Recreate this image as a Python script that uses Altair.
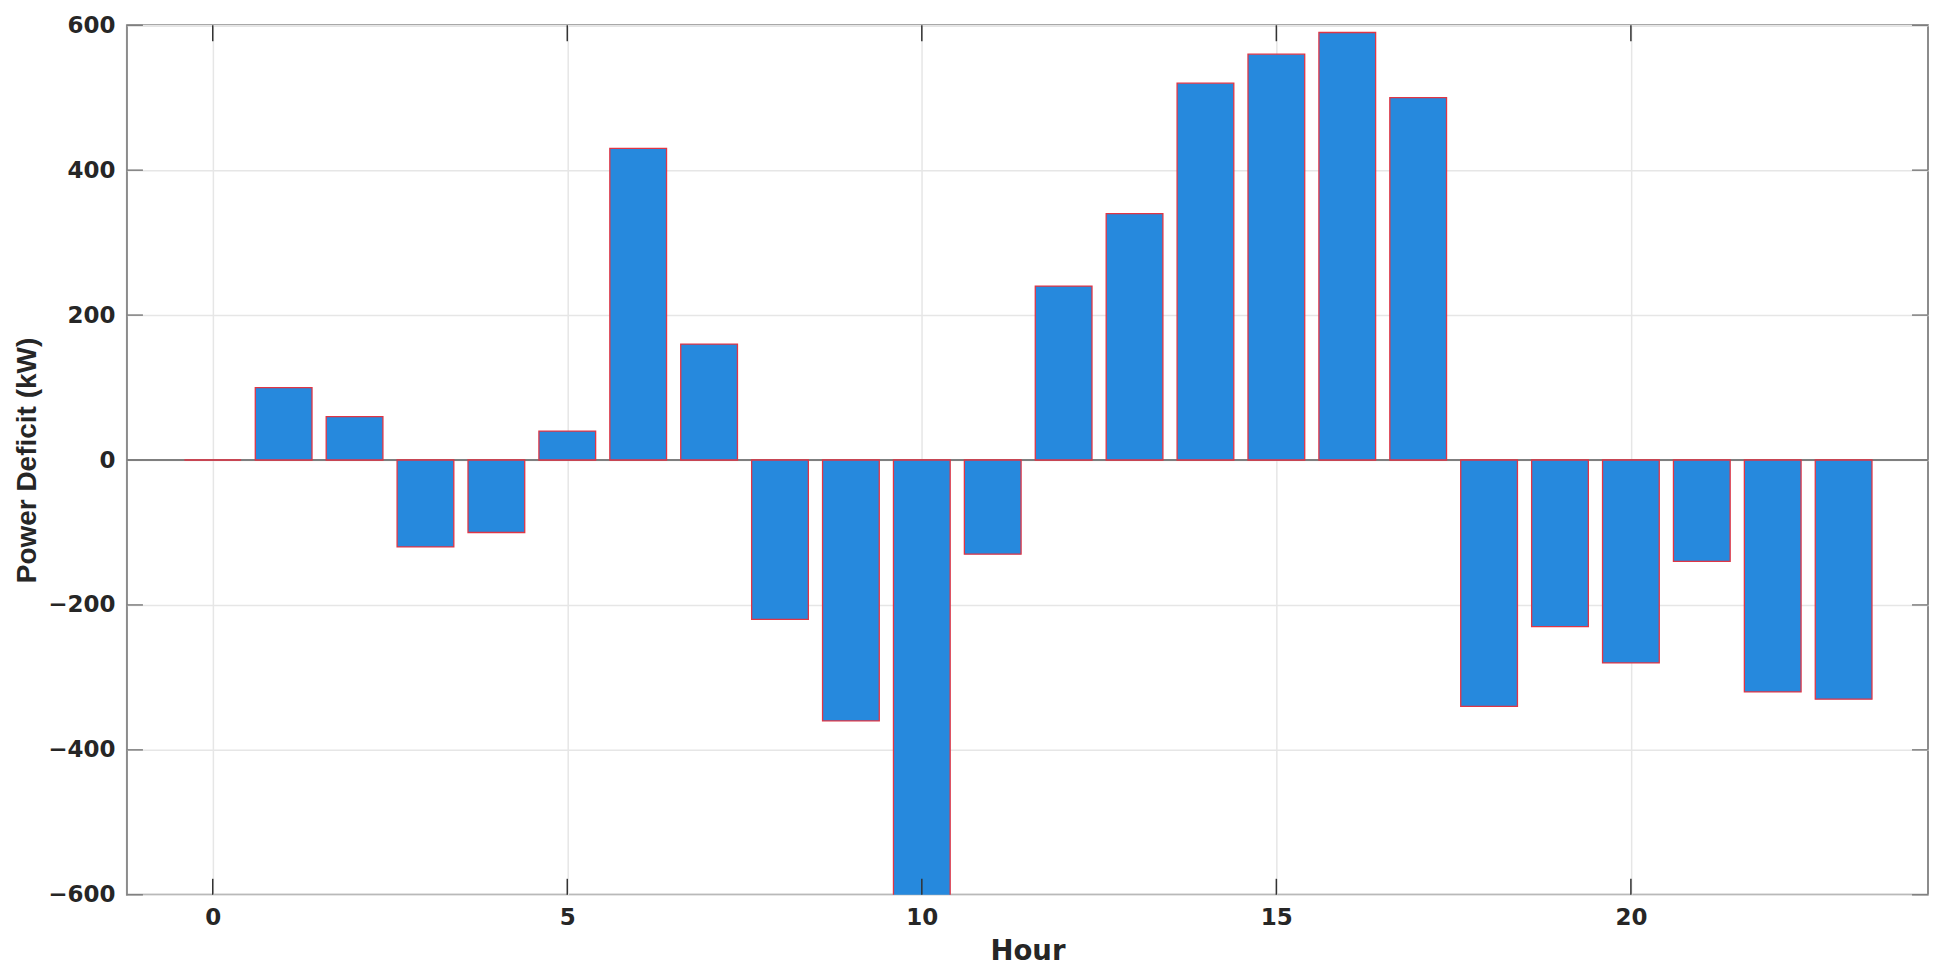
import altair as alt
import pandas as pd

hours = list(range(24))
deficit = [0, 100, 60, -120, -100, 40, 430, 160, -220, -360, -650, -130,
           240, 340, 520, 560, 590, 500, -340, -230, -280, -140, -320, -330]
x_ticks = [0, 5, 10, 15, 20]
y_ticks = [-600, -400, -200, 0, 200, 400, 600]

W, H = 1802, 870
TICK = 16

df = pd.DataFrame({"hour": hours, "deficit": deficit})
xt = pd.DataFrame({"v": x_ticks})
yt = pd.DataFrame({"v": y_ticks})
zero = pd.DataFrame({"v": [0]})

xs = alt.Scale(domain=[-1.21, 24.19], nice=False, zero=False)
ys = alt.Scale(domain=[-600, 600], nice=False)

HFONT = "DejaVu Sans"
txt = "#262626"

x_axis = alt.Axis(values=x_ticks, grid=True, gridColor="#e6e6e6", gridWidth=1.5,
                  domain=False, ticks=False, format="d",
                  labelFont=HFONT, labelFontWeight="bold", labelFontSize=23,
                  labelColor=txt, labelPadding=12,
                  title="Hour", titleFont=HFONT, titleFontWeight="bold",
                  titleFontSize=27.5, titleColor=txt, titlePadding=8)
y_axis = alt.Axis(values=y_ticks, grid=True, gridColor="#e6e6e6", gridWidth=1.5,
                  domain=False, ticks=False, format="d",
                  labelFont=HFONT, labelFontWeight="bold", labelFontSize=23,
                  labelColor=txt, labelPadding=12,
                  title="Power Deficit (kW)", titleFont="Liberation Sans",
                  titleFontWeight="bold", titleFontSize=28, titleColor=txt,
                  titlePadding=6)

zero_line = alt.Chart(zero).mark_rule(color="#7f7f7f", strokeWidth=2).encode(
    y=alt.Y("v:Q", scale=ys, axis=y_axis), x=alt.value(0), x2=alt.value(W))

bars = alt.Chart(df).transform_calculate(
    x0="datum.hour - 0.4", x1="datum.hour + 0.4", base="0"
).mark_rect(fill="#2689DD", stroke="#E03545", strokeWidth=1.3, clip=True).encode(
    x=alt.X("x0:Q", scale=xs, axis=x_axis),
    x2="x1:Q",
    y=alt.Y("deficit:Q", scale=ys, axis=y_axis),
    y2="base:Q",
)

tick_style = dict(color="#333333", strokeWidth=1.5)
bottom_ticks = alt.Chart(xt).mark_rule(**tick_style).encode(
    x=alt.X("v:Q", scale=xs, axis=x_axis), y=alt.value(H - TICK), y2=alt.value(H))
top_ticks = alt.Chart(xt).mark_rule(**tick_style).encode(
    x=alt.X("v:Q", scale=xs, axis=x_axis), y=alt.value(0), y2=alt.value(TICK))
left_ticks = alt.Chart(yt).mark_rule(color="#7f7f7f", strokeWidth=1.5).encode(
    y=alt.Y("v:Q", scale=ys, axis=y_axis), x=alt.value(0), x2=alt.value(TICK))
right_ticks = alt.Chart(yt).mark_rule(color="#7f7f7f", strokeWidth=1.5).encode(
    y=alt.Y("v:Q", scale=ys, axis=y_axis), x=alt.value(W - TICK), x2=alt.value(W))

chart = alt.layer(zero_line, bars, bottom_ticks, top_ticks, left_ticks, right_ticks).properties(
    width=W, height=H,
    autosize=alt.AutoSizeParams(type="none"),
    padding={"left": 119, "top": 17, "right": 8, "bottom": 72},
).configure_view(stroke="#8c8c8c", strokeWidth=2)

chart.save("out.html", embed_options={"renderer": "svg", "actions": False})
